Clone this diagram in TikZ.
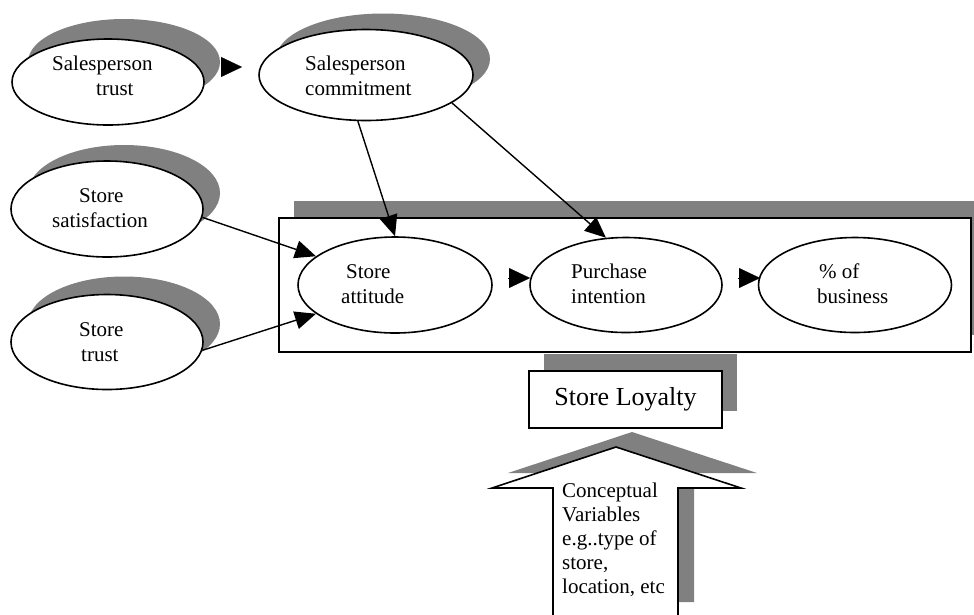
\documentclass[tikz,border=0pt]{standalone}
\usepackage{fontspec}
\setmainfont{Liberation Serif}
\usetikzlibrary{arrows.meta,shadows,shapes.geometric}
\tikzset{
  oval/.style={draw=black, line width=1.6pt, fill=white, ellipse, inner sep=0pt},
  ovalshadow/.style 2 args={drop shadow={shadow xshift=#1pt, shadow yshift=#2pt, fill=gray, opacity=1, draw=none}},
  boxshape/.style={draw=black, line width=1.6pt, fill=white, rectangle, inner sep=0pt},
  lbl/.style={anchor=base west, inner sep=0pt, font=\fontsize{21}{25}\selectfont},
  conn/.style={draw=black, line width=1.4pt, -{Triangle[length=21pt,width=18pt]}},
  tiponly/.style={draw=black, line width=0.1pt, -{Triangle[length=21pt,width=20pt]}}
}
\begin{document}
\begin{tikzpicture}[x=1pt,y=-1pt]
\useasboundingbox (0,0) rectangle (974,614);
\clip (0,0) rectangle (974,614);

% group box
\node[boxshape, minimum width=692pt, minimum height=134pt,
      drop shadow={shadow xshift=15pt, shadow yshift=17pt, fill=gray, opacity=1, draw=none}] (group) at (625,285) {};

% outer ellipses
\node[oval, minimum width=192pt, minimum height=86pt, ovalshadow={16}{20}] (st) at (108,82) {};
\node[oval, minimum width=214pt, minimum height=91pt, ovalshadow={17}{16}] (sc) at (366,75) {};
\node[oval, minimum width=192pt, minimum height=96pt, ovalshadow={17}{16}] (ss) at (107,209) {};
\node[oval, minimum width=192pt, minimum height=95pt, ovalshadow={17}{18}] (str) at (107,342) {};

% inner ellipses
\node[oval, minimum width=194pt, minimum height=96pt] (sa) at (395,285) {};
\node[oval, minimum width=192pt, minimum height=95pt] (pi) at (626,285) {};
\node[oval, minimum width=193pt, minimum height=95pt] (pb) at (855,285) {};

% labels
\node[lbl] (st1) at (52,70) {Salesperson};
\node[lbl] (st2) at (96,95) {trust};
\node[lbl] (sc1) at (305,70) {Salesperson};
\node[lbl] (sc2) at (305,95) {commitment};
\node[lbl] (ss1) at (79,202) {Store};
\node[lbl] (ss2) at (52,227) {satisfaction};
\node[lbl] (str1) at (79,336) {Store};
\node[lbl] (str2) at (81,361) {trust};
\node[lbl] (sa1) at (346,278) {Store};
\node[lbl] (sa2) at (341,303) {attitude};
\node[lbl] (pi1) at (571,278) {Purchase};
\node[lbl] (pi2) at (571,303) {intention};
\node[lbl] (pb1) at (819,278) {\% of};
\node[lbl] (pb2) at (817,303) {business};

% store loyalty
\node[boxshape, minimum width=193pt, minimum height=57pt,
      font=\fontsize{26}{30}\selectfont,
      drop shadow={shadow xshift=15pt, shadow yshift=17pt, fill=gray, opacity=1, draw=none}] (loyal) at (625.5,399.5) {Store Loyalty};

% block arrow
\fill[gray] (632,432) -- (757,473) -- (694,473) -- (694,602) -- (569,602) -- (569,473) -- (508,473) -- cycle;
\draw[line width=1.6pt, fill=white, line join=miter] (616,447) -- (741,488) -- (678,488) -- (678,620) -- (553,620) -- (553,488) -- (492,488) -- cycle;
\node[lbl] (cv1) at (562,497) {Conceptual};
\node[lbl] (cv2) at (562,521) {Variables};
\node[lbl] (cv3) at (562,545) {e.g..type of};
\node[lbl] (cv4) at (562,569) {store,};
\node[lbl] (cv5) at (562,593) {location, etc};

% connectors
\draw[conn] (sc.260) -- (sa.north);
\draw[conn] (sc.342) -- (pi.113);
\draw[conn] (ss.355) -- (sa.160);
\draw[conn] (str.355) -- (sa.200);

% lone arrow tips
\coordinate (t1a) at (221,67);
\coordinate (t1b) at (242,67);
\draw[tiponly] (t1a) -- (t1b);
\coordinate (t2a) at (508,278);
\coordinate (t2b) at (530,278);
\draw[tiponly] (t2a) -- (t2b);
\coordinate (t3a) at (738,278);
\coordinate (t3b) at (760,278);
\draw[tiponly] (t3a) -- (t3b);
\end{tikzpicture}
\end{document}
